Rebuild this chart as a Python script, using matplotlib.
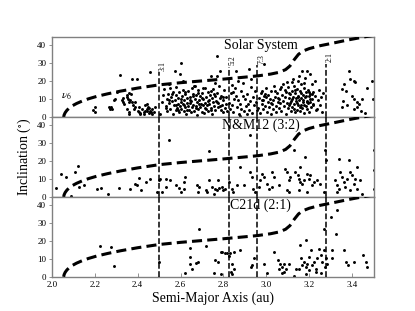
import numpy as np
import matplotlib
matplotlib.use('Agg')
import matplotlib.pyplot as plt

plt.rcParams['font.family'] = ['Liberation Serif', 'DejaVu Serif']
plt.rcParams['mathtext.fontset'] = 'stix'

# nu6 secular resonance
nu6_a = [2.055, 2.057, 2.062, 2.07, 2.08, 2.095, 2.115, 2.14, 2.17, 2.21, 2.26, 2.32, 2.4, 2.5,
         2.6, 2.7, 2.8, 2.9, 2.96, 3.02, 3.06, 3.09, 3.11, 3.13, 3.15, 3.17, 3.2, 3.25, 3.3, 3.38,
         3.46, 3.52]
nu6_i = [0, 1.2, 2.5, 3.8, 5.0, 6.3, 7.6, 8.9, 10.2, 11.6, 13.0, 14.5, 16.2, 18.0,
         19.2, 20.2, 21.2, 22.3, 23.0, 24.0, 25.0, 26.5, 28.5, 32.0, 35.0, 36.8, 38.2, 39.8, 41.0, 43.0,
         44.8, 46]

# mean motion resonances
res_a = [2.50, 2.825, 2.958, 3.278]
res_names = ['3:1', '5:2', '7:3', '2:1']
res_top = [25.2, 28.0, 28.9, 29.8]

panel_names = ['Solar System', 'N&M12 (3:2)', 'C21d (2:1)']

solar_pts = [
    (2.193, 3.9), (2.2, 5.6), (2.199, 3.0), (2.265, 5.6), (2.271, 4.8), (2.28, 4.6), (2.277, 5.9),
    (2.288, 9.3), (2.294, 9.9), (2.302, 14), (2.318, 23.3), (2.327, 9.3), (2.335, 7.4), (2.333, 8.2),
    (2.33, 10.4), (2.349, 11.2), (2.352, 12.2), (2.358, 13.5), (2.357, 10), (2.36, 8.2), (2.366, 9.6),
    (2.374, 8.3), (2.38, 6.5), (2.385, 4.6), (2.36, 2.8), (2.35, 4.6), (2.358, 1.9), (2.372, 21.5),
    (2.396, 21.5), (2.39, 5.6), (2.403, 3.7), (2.406, 5.6), (2.405, 3.0), (2.413, 1.9), (2.42, 4.6),
    (2.428, 2.8), (2.43, 1.9), (2.436, 6.5), (2.442, 3.7), (2.444, 4.6), (2.442, 7.4), (2.45, 5.6),
    (2.452, 5.0), (2.458, 3.7), (2.46, 3.0), (2.465, 4.6), (2.467, 1.9), (2.474, 2.8), (2.458, 25.2),
    (2.41, 2.5), (2.39, 8.5), (2.37, 12.8), (2.48, 5.4), (2.436, 3.2), (2.452, 2.2),
    (2.505, 2.0), (2.512, 8.4), (2.52, 12.5), (2.525, 15.6), (2.53, 6.1), (2.535, 10.2), (2.538, 3.5),
    (2.542, 13.1), (2.545, 7.8), (2.55, 16.2), (2.552, 4.4), (2.556, 11.0), (2.56, 8.9), (2.563, 1.6),
    (2.566, 14.2), (2.57, 6.7), (2.573, 25.9), (2.575, 9.8), (2.578, 3.9), (2.58, 12.1), (2.583, 5.3),
    (2.586, 7.5), (2.59, 10.7), (2.592, 2.6), (2.595, 13.8), (2.596, 24.0), (2.598, 6.2), (2.6, 8.6),
    (2.603, 4.8), (2.604, 30.0), (2.606, 11.6), (2.61, 15.3), (2.612, 7.1), (2.615, 3.2), (2.618, 9.4),
    (2.62, 5.9), (2.623, 12.8), (2.626, 1.8), (2.628, 8.0), (2.63, 10.5), (2.633, 6.4), (2.636, 14.6),
    (2.64, 4.1), (2.642, 7.7), (2.645, 11.3), (2.648, 2.9), (2.65, 9.1), (2.653, 5.5), (2.656, 13.0),
    (2.66, 7.0), (2.662, 17.2), (2.665, 3.6), (2.668, 10.0), (2.67, 6.3), (2.673, 12.4), (2.676, 1.4),
    (2.678, 8.3), (2.68, 4.7), (2.683, 15.1), (2.686, 9.7), (2.69, 5.8), (2.692, 11.9), (2.695, 7.3),
    (2.698, 3.0), (2.7, 13.6), (2.703, 6.6), (2.706, 9.9), (2.71, 2.2), (2.712, 8.1), (2.715, 16.4),
    (2.718, 4.5), (2.72, 11.1), (2.723, 6.9), (2.726, 14.1), (2.73, 3.4), (2.732, 9.3), (2.735, 7.6),
    (2.738, 12.6), (2.74, 5.1), (2.744, 23.0), (2.745, 10.4), (2.748, 1.9), (2.75, 8.7), (2.753, 15.8),
    (2.756, 6.0), (2.76, 11.7), (2.762, 3.8), (2.765, 9.0), (2.768, 23.0), (2.77, 13.3), (2.772, 34.3),
    (2.774, 5.6), (2.777, 7.9), (2.78, 17.5), (2.783, 25.9), (2.784, 10.8), (2.787, 4.2), (2.79, 12.0),
    (2.793, 6.8), (2.796, 2.7), (2.8, 9.5), (2.803, 14.9), (2.806, 5.0), (2.81, 7.4), (2.813, 11.4),
    (2.816, 3.3), (2.534, 5.0), (2.548, 9.5), (2.561, 12.9), (2.577, 7.0), (2.588, 4.0), (2.602, 10.1),
    (2.617, 6.6), (2.631, 3.8), (2.644, 9.8), (2.659, 11.8), (2.671, 4.9), (2.688, 7.2), (2.702, 10.9),
    (2.714, 5.3), (2.728, 8.8), (2.742, 3.9), (2.757, 12.8), (2.771, 8.4), (2.786, 6.2), (2.799, 11.0),
    (2.62, 14.0), (2.68, 13.4), (2.74, 14.3), (2.58, 16.9), (2.705, 16.0), (2.655, 16.5), (2.545, 18.3),
    (2.61, 20.2), (2.666, 17.6), (2.76, 19.0),
    (2.824, 8.0), (2.83, 4.5), (2.836, 13.5), (2.84, 6.5), (2.845, 13.9), (2.845, 2.8), (2.85, 10.3),
    (2.855, 16.0), (2.86, 12.0), (2.865, 5.5), (2.869, 9.3), (2.872, 1.5), (2.876, 0.9), (2.878, 7.2),
    (2.884, 14.8), (2.884, 4.6), (2.89, 11.6), (2.895, 3.3), (2.9, 10.2), (2.905, 6.0), (2.908, 1.9),
    (2.912, 13.0), (2.916, 7.4), (2.92, 4.2), (2.925, 9.0), (2.931, 16.7), (2.935, 2.5), (2.94, 11.5),
    (2.944, 6.8), (2.947, 14.8), (2.952, 8.6), (2.955, 4.0), (2.86, 25.5), (2.92, 27.0), (2.838, 18.0),
    (2.89, 18.8), (2.87, 20.0), (2.93, 21.4), (2.99, 29.4),
    (2.962, 5.2), (2.966, 10.8), (2.97, 2.4), (2.975, 13.5), (2.978, 14.8), (2.98, 7.6), (2.985, 4.3),
    (2.986, 9.3), (2.99, 11.8), (2.993, 13.0), (2.996, 6.1), (3.0, 16.2), (3.003, 3.1), (3.006, 8.7),
    (3.01, 12.4), (3.013, 5.5), (3.016, 10.1), (3.02, 1.8), (3.023, 14.5), (3.026, 7.2), (3.03, 9.6),
    (3.033, 4.6), (3.036, 17.3), (3.04, 11.3), (3.043, 6.4), (3.046, 2.9), (3.05, 13.7), (3.053, 8.2),
    (3.056, 10.6), (3.06, 5.0), (3.063, 15.5), (3.066, 7.8), (3.07, 3.6), (3.073, 12.2), (3.076, 9.1),
    (3.08, 18.4), (3.083, 6.0), (3.086, 11.0), (3.09, 2.0), (3.093, 14.0), (3.096, 8.0), (3.1, 4.9),
    (3.102, 16.6), (3.105, 10.4), (3.108, 6.9), (3.11, 12.9), (3.113, 3.3), (3.116, 9.0), (3.118, 19.6),
    (3.12, 14.8), (3.122, 5.7), (3.125, 11.5), (3.127, 7.4), (3.13, 17.2), (3.132, 2.6), (3.135, 13.2),
    (3.137, 8.8), (3.14, 10.7), (3.142, 4.2), (3.145, 15.9), (3.147, 6.6), (3.15, 12.0), (3.151, 23.0),
    (3.153, 9.4), (3.155, 3.7), (3.158, 14.3), (3.16, 7.0), (3.162, 18.5), (3.164, 10.9), (3.166, 26.0),
    (3.167, 5.3), (3.17, 12.6), (3.172, 8.3), (3.175, 16.0), (3.177, 2.2), (3.18, 11.2), (3.182, 22.0),
    (3.183, 6.4), (3.185, 13.9), (3.188, 9.0), (3.19, 26.0), (3.191, 4.6), (3.193, 15.2), (3.196, 7.7),
    (3.198, 11.8), (3.2, 3.0), (3.203, 13.1), (3.205, 24.0), (3.206, 8.5), (3.21, 5.6), (3.213, 18.5),
    (3.214, 10.3), (3.218, 14.0), (3.22, 6.8), (3.225, 12.0), (3.229, 20.0), (3.23, 3.9), (3.236, 4.6),
    (3.24, 9.8), (3.245, 15.0), (3.25, 7.0), (3.255, 11.0), (3.26, 2.8), (3.265, 13.5),
    (3.104, 13.6), (3.112, 7.9), (3.121, 10.0), (3.128, 4.4), (3.134, 15.4), (3.141, 8.1), (3.149, 11.2),
    (3.157, 5.9), (3.163, 13.6), (3.169, 9.7), (3.176, 6.9), (3.184, 11.9), (3.189, 8.2), (3.197, 13.8),
    (3.204, 9.9), (3.211, 12.9), (3.216, 7.5), (3.06, 9.9), (3.04, 14.6), (3.02, 8.0), (3.0, 11.0),
    (2.98, 9.8), (3.085, 15.3), (3.07, 17.0), (3.095, 19.7), (3.178, 19.0), (3.146, 20.4), (3.124, 21.4),
    (3.353, 15.7), (3.353, 5.6), (3.361, 18.5), (3.37, 14.8), (3.377, 6.5), (3.384, 26.0), (3.392, 21.0),
    (3.4, 12.0), (3.408, 20.0), (3.408, 10.2), (3.408, 4.6), (3.416, 19.4), (3.423, 8.3), (3.423, 5.6),
    (3.431, 7.4), (3.447, 10.2), (3.493, 20.4), (3.498, 10.0), (3.46, 2.5), (3.36, 9.0), (3.47, 16.0),
    (3.44, 3.3),
]

nm12_pts = [
    (2.02, 5.0), (2.044, 13.0), (2.065, 11.1), (2.089, 0.5), (2.106, 13.9), (2.121, 17.0), (2.125, 5.6),
    (2.151, 6.5), (2.21, 4.3), (2.23, 5.0), (2.262, 1.5), (2.315, 5.0), (2.366, 4.6), (2.386, 7.4),
    (2.397, 6.5), (2.408, 10.7), (2.417, 4.1), (2.44, 8.3), (2.456, 10.2), (2.492, 2.8), (2.506, 10.2),
    (2.50, 9.3), (2.514, 2.8), (2.534, 10.2), (2.545, 31.9), (2.553, 9.6), (2.53, 5.6), (2.58, 6.5),
    (2.592, 5.2), (2.60, 2.8), (2.615, 4.6), (2.623, 11.1), (2.615, 8.3), (2.678, 6.5), (2.685, 5.6),
    (2.68, 2.8), (2.717, 3.7), (2.724, 2.8), (2.732, 25.4), (2.732, 9.6),
    (2.746, 5.6), (2.761, 4.6), (2.769, 3.7), (2.78, 5.0), (2.793, 5.6), (2.8, 3.7), (2.808, 4.6),
    (2.777, 9.3), (2.754, 1.9), (2.824, 8.3), (2.839, 4.6), (2.847, 2.8), (2.862, 6.5), (2.878, 16.7),
    (2.894, 6.5), (2.922, 34.3), (2.925, 13.9), (2.933, 11.1), (2.94, 4.6), (2.948, 2.8), (2.964, 5.6),
    (2.972, 9.3), (2.98, 13.0), (2.987, 11.1), (3.003, 7.4), (3.011, 4.6), (3.026, 13.9), (3.034, 11.1),
    (3.026, 5.6), (3.057, 6.5), (3.088, 15.7), (3.096, 13.9), (3.104, 9.3), (3.109, 11.1), (3.096, 3.7),
    (3.104, 2.8), (3.13, 26.0), (3.135, 13.9), (3.146, 12.0), (3.151, 10.2), (3.155, 16.7), (3.159, 8.3),
    (3.166, 7.4), (3.174, 9.3), (3.182, 22.2), (3.19, 13.0), (3.197, 10.2), (3.205, 12.0), (3.213, 6.5),
    (3.221, 8.3), (3.236, 9.3), (3.252, 7.4), (3.151, 3.7), (3.19, 2.8), (3.275, 26.0), (3.278, 20.4),
    (3.268, 2.8), (3.322, 9.3), (3.33, 6.5), (3.338, 21.3), (3.346, 13.9), (3.353, 11.1), (3.361, 8.3),
    (3.369, 5.6), (3.377, 10.2), (3.384, 20.4), (3.392, 13.9), (3.4, 12.0), (3.408, 7.4), (3.416, 10.2),
    (3.424, 16.7), (3.424, 4.6), (3.439, 9.3), (3.447, 1.9), (3.338, 4.6), (3.5, 4.6), (3.5, 14.8),
    (3.5, 26.0), (3.33, 2.8), (3.392, 3.7),
]

c21d_pts = [
    (2.223, 17.0), (2.277, 16.7), (2.29, 6.1), (2.5, 8.5), (2.62, 2.2), (2.646, 11.1), (2.646, 16.3),
    (2.685, 26.9), (2.67, 7.8), (2.68, 8.3), (2.72, 17.0), (2.759, 9.6), (2.774, 8.3), (2.787, 13.9),
    (2.794, 13.9), (2.807, 13.3), (2.818, 13.0), (2.826, 11.5), (2.833, 13.3), (2.841, 7.4), (2.836, 2.8),
    (2.841, 1.3), (2.849, 13.9), (2.877, 14.8), (2.787, 1.5), (2.927, 5.6), (2.935, 6.5), (2.942, 10.2),
    (2.989, 7.4), (3.036, 13.9), (3.055, 9.3), (3.064, 7.4), (3.075, 5.6), (3.083, 7.4), (3.09, 4.6),
    (3.106, 7.4), (3.072, 2.2), (3.137, 4.6), (3.156, 17.6), (3.16, 10.2), (3.168, 6.5), (3.176, 8.3),
    (3.184, 20.4), (3.184, 5.6), (3.192, 7.4), (3.2, 11.1), (3.207, 14.8), (3.212, 6.5), (3.223, 8.3),
    (3.23, 4.6), (3.238, 10.2), (3.246, 15.7), (3.254, 12.0), (3.262, 8.3), (3.27, 14.8), (3.27, 26.9),
    (3.277, 10.2), (3.274, 5.6), (3.285, 7.4), (3.3, 33.3), (3.305, 10.2), (3.308, 14.8), (3.324, 24.0),
    (3.332, 37.0), (3.363, 14.8), (3.371, 8.3), (3.383, 6.5), (3.41, 8.3), (3.449, 12.0), (3.464, 8.3),
    (3.472, 5.6), (3.129, 0.4), (3.005, 2.2), (3.184, 1.5), (3.23, 2.8), (3.254, 2.2), (3.2, 3.7),
    (3.153, 4.6), (3.059, 4.6), (3.083, 2.8), (2.642, 7.4), (2.654, 4.6), (2.755, 1.9), (2.849, 4.6),
]

all_pts = [solar_pts, nm12_pts, c21d_pts]

fig, axes = plt.subplots(3, 1, sharex=True, figsize=(4.15, 3.11), dpi=100)
plt.subplots_adjust(hspace=0)

for k, ax in enumerate(axes):
    pts = np.array(all_pts[k])
    ax.scatter(pts[:, 0], pts[:, 1], s=4.5, c='black', linewidths=0, zorder=2)
    ax.plot(nu6_a, nu6_i, color='black', lw=2.2, dashes=(3.3, 1.7), zorder=3)
    for j, a in enumerate(res_a):
        top = res_top[j] if k == 0 else 44.5
        ax.plot([a, a], [0, top], color='black', lw=1.1, dashes=(3.8, 1.6), zorder=3)
        if k == 0:
            ax.text(a, top + 0.8, res_names[j], rotation=90, fontsize=5.5, ha='left', va='bottom')
    ax.text(2.975, 40, panel_names[k], fontsize=10, ha='center', va='center')
    ax.set_xlim(2.0, 3.5)
    ax.set_ylim(0, 44.5)
    ax.set_yticks([0, 10, 20, 30, 40])
    ax.tick_params(axis='y', labelsize=6.5, length=2.5, width=0.6, pad=1.5, color='gray')
    ax.tick_params(axis='x', labelsize=6.5, direction='in', length=3, width=0.6, color='gray', pad=3)
    if k < 2:
        ax.tick_params(axis='x', length=0)
    for sp in ax.spines.values():
        sp.set_color('gray')
        sp.set_linewidth(1.0)

axes[0].text(2.043, 11.7, r'$\nu_6$', fontsize=8, ha='left', va='center')
axes[2].set_xticks([2.0, 2.2, 2.4, 2.6, 2.8, 3.0, 3.2, 3.4])
axes[2].set_xlabel('Semi-Major Axis (au)', fontsize=10, labelpad=2)
axes[1].set_ylabel('Inclination ($^{\\circ}$)', fontsize=10, labelpad=3)

plt.savefig('out.png', dpi=100)
